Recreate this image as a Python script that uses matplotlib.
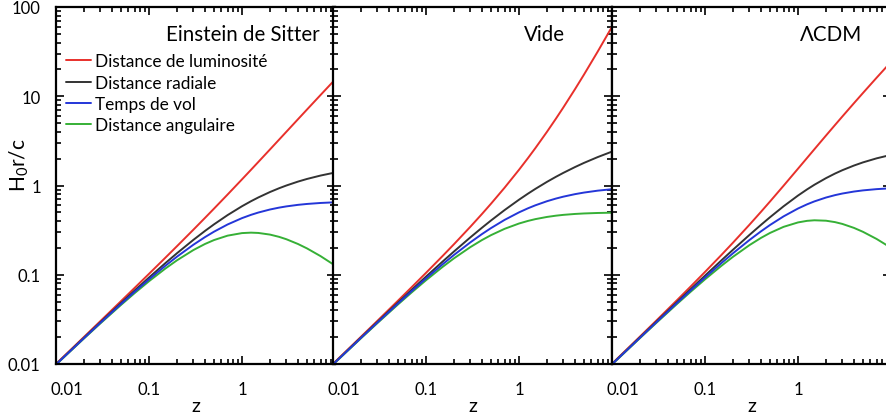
import matplotlib
matplotlib.use('Agg')
import matplotlib.pyplot as plt
import matplotlib.ticker as mticker
import matplotlib.transforms as mtransforms

# Redshift sample points.
Z = [0.01, 0.02, 0.03, 0.05, 0.07, 0.1, 0.15, 0.2, 0.3, 0.4, 0.5, 0.7,
     1, 1.25, 1.5, 2, 2.5, 3, 4, 5, 7, 10]

# Einstein de Sitter panel.
EDS_LUMINOSITY = [0.01003, 0.02010, 0.03022, 0.05061, 0.07119, 0.1024, 0.1552, 0.2091,
                  0.3196, 0.4336, 0.5505, 0.7923, 1.172, 1.500, 1.838, 2.536, 3.258,
                  4.000, 5.528, 7.101, 10.34, 15.37]
EDS_RADIAL = [0.009926, 0.01970, 0.02934, 0.04820, 0.06653, 0.09307, 0.1350, 0.1743,
              0.2459, 0.3097, 0.3670, 0.4661, 0.5858, 0.6667, 0.7351, 0.8453, 0.9310,
              1.000, 1.106, 1.184, 1.293, 1.397]
EDS_TIME = [0.009877, 0.01950, 0.02892, 0.04705, 0.06433, 0.08881, 0.1261, 0.1595,
            0.2169, 0.2642, 0.3038, 0.3659, 0.4310, 0.4691, 0.4980, 0.5384, 0.5649,
            0.5833, 0.6070, 0.6213, 0.6372, 0.6484]
EDS_ANGULAR = [0.009828, 0.01932, 0.02849, 0.04591, 0.06218, 0.08461, 0.1174, 0.1452,
               0.1891, 0.2212, 0.2447, 0.2742, 0.2929, 0.2963, 0.2940, 0.2818, 0.2660,
               0.2500, 0.2211, 0.1973, 0.1616, 0.1270]

# Empty universe panel.
EMPTY_LUMINOSITY = [0.01005, 0.0202, 0.03045, 0.05125, 0.07245, 0.105, 0.1613, 0.22,
                    0.345, 0.48, 0.625, 0.945, 1.5, 2.031, 2.625, 4.0, 5.625, 7.5,
                    12.0, 17.5, 31.5, 60.0]
EMPTY_RADIAL = [0.00995, 0.0198, 0.02956, 0.04879, 0.06766, 0.09531, 0.1398, 0.1823,
                0.2624, 0.3365, 0.4055, 0.5306, 0.6931, 0.8109, 0.9163, 1.099, 1.253,
                1.386, 1.609, 1.792, 2.079, 2.398]
EMPTY_TIME = [0.009901, 0.01961, 0.02913, 0.04762, 0.06542, 0.09091, 0.1304, 0.1667,
              0.2308, 0.2857, 0.3333, 0.4118, 0.5, 0.5556, 0.6, 0.6667, 0.7143, 0.75,
              0.8, 0.8333, 0.875, 0.9091]
EMPTY_ANGULAR = [0.009852, 0.01942, 0.02870, 0.04649, 0.06328, 0.08678, 0.1219, 0.1528,
                 0.2041, 0.2449, 0.2778, 0.3270, 0.375, 0.4012, 0.42, 0.4444, 0.4592,
                 0.4688, 0.48, 0.4861, 0.4922, 0.4959]

# Lambda-CDM panel.
LCDM_LUMINOSITY = [0.01008, 0.02031, 0.03069, 0.05190, 0.07371, 0.1075, 0.1665, 0.2288,
                   0.3626, 0.5072, 0.6615, 0.9946, 1.543, 2.033, 2.547, 3.628, 4.762,
                   5.936, 8.371, 10.89, 16.12, 24.25]
LCDM_RADIAL = [0.009978, 0.01991, 0.02980, 0.04943, 0.06888, 0.09771, 0.1448, 0.1907,
               0.2789, 0.3623, 0.4410, 0.5851, 0.7714, 0.9037, 1.019, 1.209, 1.361,
               1.484, 1.674, 1.816, 2.015, 2.204]
LCDM_TIME = [0.009928, 0.01971, 0.02935, 0.04824, 0.06659, 0.09316, 0.1350, 0.1741,
             0.2447, 0.3065, 0.3609, 0.4511, 0.5523, 0.6148, 0.6634, 0.7331, 0.7799,
             0.8129, 0.8556, 0.8816, 0.9105, 0.9309]
LCDM_ANGULAR = [0.009879, 0.01952, 0.02893, 0.04708, 0.06438, 0.08883, 0.1259, 0.1589,
                0.2145, 0.2588, 0.2940, 0.3442, 0.3857, 0.4017, 0.4076, 0.4032, 0.3888,
                0.3710, 0.3349, 0.3026, 0.2518, 0.2004]

MODEL_NAMES = ['Einstein de Sitter', 'Vide', 'ΛCDM']
CURVE_LABELS = ['Distance de luminosité', 'Distance radiale', 'Temps de vol',
                'Distance angulaire']
X_TICKS = [0.01, 0.1, 1]
X_TICK_LABELS = ['0.01', '0.1', '1']
Y_TICKS = [0.01, 0.1, 1, 10, 100]
Y_TICK_LABELS = ['0.01', '0.1', '1', '10', '100']

COLORS = ['#e8302b', '#333333', '#2436d8', '#36b036']
# Draw order: red, black, green, blue (blue ends up on top at small z).
DRAW_ORDER = [0, 1, 3, 2]

# Panel geometry in pixels (figure is 886 x 414).
PANEL_LEFTS = [56, 333, 612]
PANEL_WIDTH = 279
PANEL_BOTTOM = 49
PANEL_HEIGHT = 357
NAME_X = [0.946, 0.832, 0.896]


def style_axes(ax, first: bool) -> None:
    """Log axes, inward ticks on every side, thick frame."""
    ax.set_xscale('log')
    ax.set_yscale('log')
    ax.set_xlim(0.01, 10)
    ax.set_ylim(0.01, 100)

    ax.set_xticks(X_TICKS)
    ax.set_xticklabels(X_TICK_LABELS)
    ax.set_yticks(Y_TICKS)
    ax.set_yticklabels(Y_TICK_LABELS)
    ax.xaxis.set_minor_locator(mticker.LogLocator(subs=range(2, 10)))
    ax.yaxis.set_minor_locator(mticker.LogLocator(subs=range(2, 10)))
    ax.xaxis.set_minor_formatter(mticker.NullFormatter())
    ax.yaxis.set_minor_formatter(mticker.NullFormatter())

    ax.tick_params(which='both', direction='in', top=True, right=True,
                   width=1.2, labelsize=12, colors='black')
    ax.tick_params(which='major', length=6)
    ax.tick_params(which='minor', length=3.5)
    ax.tick_params(axis='x', pad=12)
    ax.tick_params(axis='y', pad=11, labelleft=first)

    for spine in ax.spines.values():
        spine.set_linewidth(1.6)


def main() -> None:
    plt.rcParams['font.family'] = ['Lato', 'DejaVu Sans']
    plt.rcParams['mathtext.default'] = 'regular'

    fig = plt.figure(figsize=(8.86, 4.14), dpi=100)
    W, H = 886, 414

    panels = [
        [EDS_LUMINOSITY, EDS_RADIAL, EDS_TIME, EDS_ANGULAR],
        [EMPTY_LUMINOSITY, EMPTY_RADIAL, EMPTY_TIME, EMPTY_ANGULAR],
        [LCDM_LUMINOSITY, LCDM_RADIAL, LCDM_TIME, LCDM_ANGULAR],
    ]

    for i, curves in enumerate(panels):
        ax = fig.add_axes([PANEL_LEFTS[i] / W, PANEL_BOTTOM / H,
                           PANEL_WIDTH / W, PANEL_HEIGHT / H])
        style_axes(ax, i == 0)

        handles = [None] * 4
        for k in DRAW_ORDER:
            handles[k] = ax.plot(Z, curves[k], color=COLORS[k], lw=1.4,
                                 solid_capstyle='round')[0]

        ax.text(NAME_X[i], 0.924, MODEL_NAMES[i], transform=ax.transAxes,
                ha='right', va='center', fontsize=14.8)
        ax.set_xlabel('z', fontsize=14, labelpad=0)

        # Shift the first x label right so it sits clear of the panel edge.
        first = ax.xaxis.get_major_ticks()[0].label1
        first.set_transform(first.get_transform()
                            + mtransforms.ScaledTranslation(0.11, 0, fig.dpi_scale_trans))

        if i == 0:
            ax.set_ylabel(r'H$_0$r/c', fontsize=15)
            ax.yaxis.set_label_coords(-0.09, 0.56)
            ax.legend(handles, CURVE_LABELS, loc='upper left',
                      bbox_to_anchor=(0.035, 0.87), frameon=False, fontsize=12.4,
                      handlelength=1.45, handletextpad=0.25, labelspacing=0.3,
                      borderaxespad=0, borderpad=0)

    fig.savefig('out.png', dpi=100)


if __name__ == '__main__':
    main()
